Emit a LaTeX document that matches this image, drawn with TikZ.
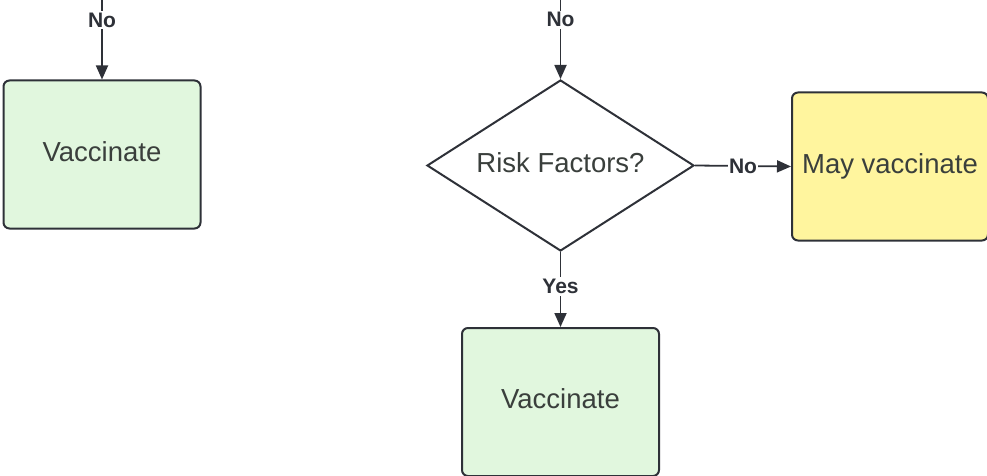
\documentclass[tikz,border=0pt]{standalone}
\usepackage{fontspec}
\setmainfont{Liberation Sans}
\usetikzlibrary{shapes.geometric,arrows.meta}
\definecolor{edge}{HTML}{2E3138}
\definecolor{txt}{HTML}{3A3F3C}
\definecolor{greenfill}{HTML}{E1F7DE}
\definecolor{yellowfill}{HTML}{FFF59E}
\tikzset{
  bigtext/.style={font=\fontsize{27.5}{31}\selectfont, text=txt, text height=20pt, text depth=7pt},
  box/.style={draw=edge, line width=2pt, rounded corners=6pt, minimum width=197pt,
    minimum height=148pt, inner sep=0pt, bigtext},
  decision/.style={diamond, draw=edge, line width=2pt, fill=white, inner sep=0pt,
    minimum width=267pt, minimum height=171pt, aspect=1.56, bigtext},
  flow/.style={draw=edge, line width=1.8pt, -{Triangle[length=14pt,width=12pt]}},
  lbl/.style={fill=white, inner sep=2pt, text=edge, font=\bfseries\fontsize{21}{23}\selectfont}
}
\begin{document}
\begin{tikzpicture}[x=1pt,y=-1pt]
  \useasboundingbox (0,0) rectangle (987,476);
  % decision and outcome boxes
  \node[box, fill=greenfill] (vacL) at (102,154.5) {Vaccinate};
  \node[decision] (risk) at (560.5,165.5) {Risk Factors?};
  \node[box, fill=yellowfill, minimum width=196pt] (may) at (890,166.5) {May vaccinate};
  \node[box, fill=greenfill] (vacB) at (560.5,402) {Vaccinate};
  % incoming connectors from above
  \coordinate (inL) at (102,-2);
  \coordinate (inR) at (560.5,-2);
  \draw[flow] (inL) -- node[lbl, pos=0.27] {No} (vacL.north);
  \draw[flow] (inR) -- node[lbl, pos=0.27] {No} (risk.north);
  % branches out of the decision
  \draw[flow] (risk.east) -- node[lbl, pos=0.5, inner sep=1pt] {No} (may.west);
  \draw[flow] (risk.south) -- node[lbl, pos=0.46] {Yes} (vacB.north);
\end{tikzpicture}
\end{document}
